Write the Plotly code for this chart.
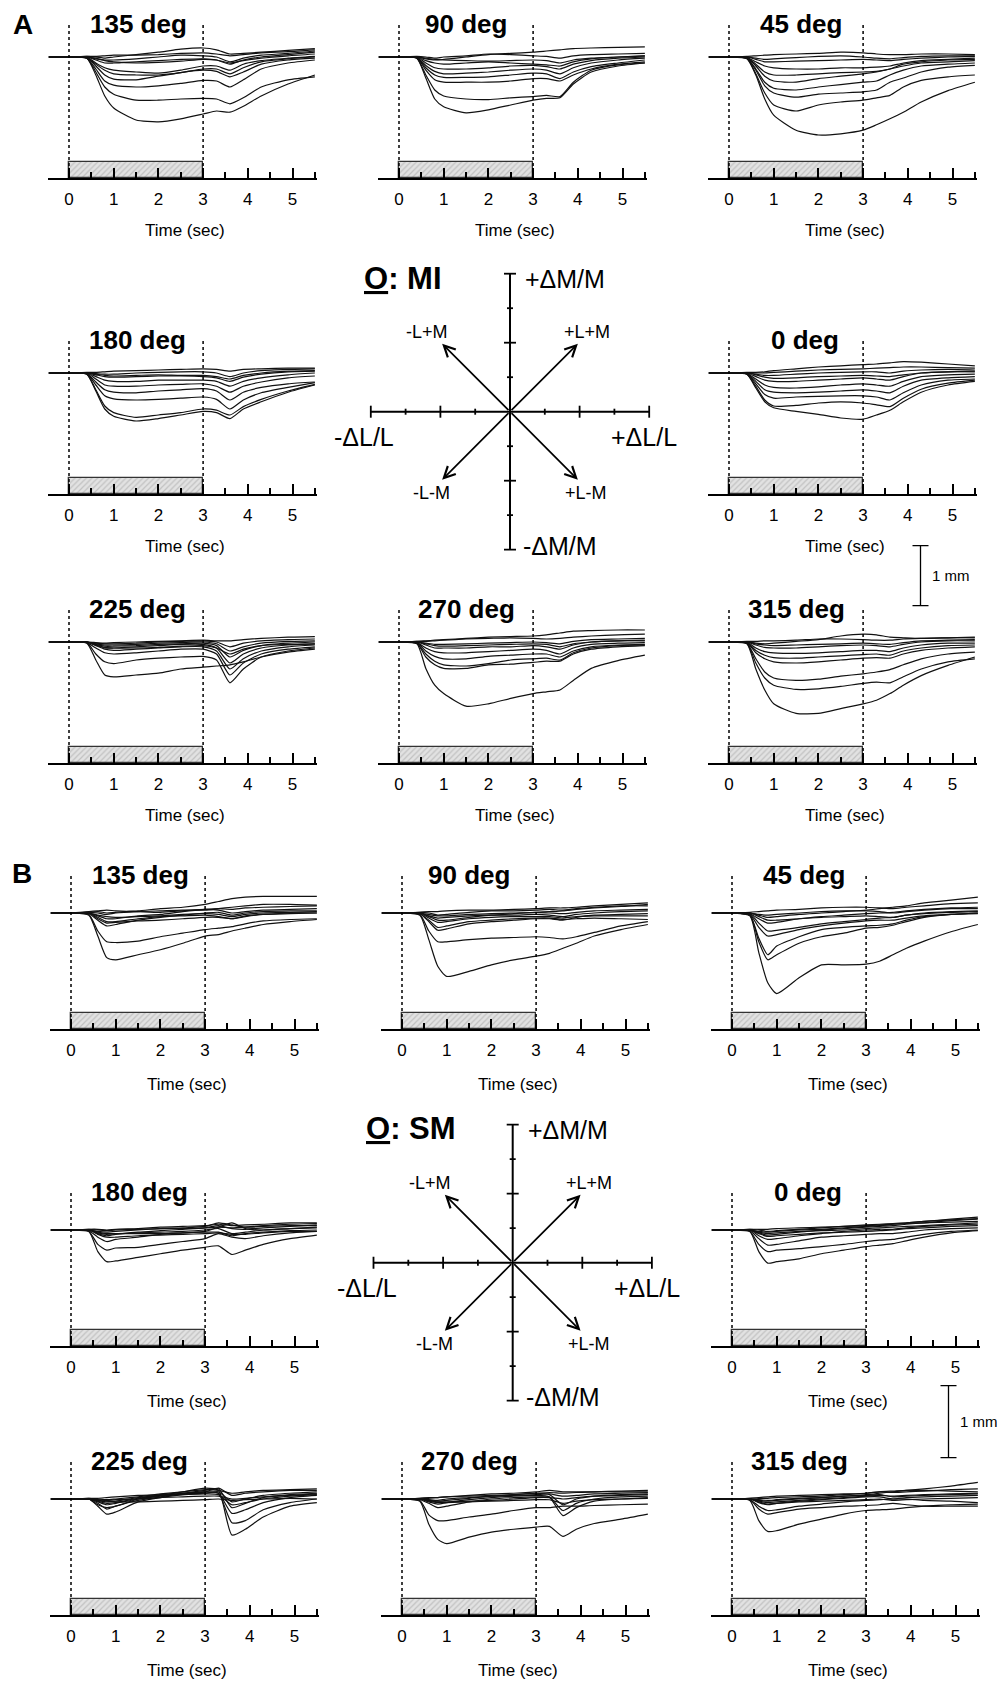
import plotly.graph_objects as go

W, H = 1001, 1684
FONT = "Arial, 'Liberation Sans', Helvetica, sans-serif"

# ---------------- data ----------------
T = [-0.45, 0, 0.4, 0.6, 0.8, 1.0, 1.5, 2.0, 2.5, 3.0, 3.3, 3.6, 3.9, 4.3, 4.9, 5.5]
TIME_TICKS = [0, 1, 2, 3, 4, 5]
TIME_MINOR = [0.5, 1.5, 2.5, 3.5, 4.5, 5.5]
X_RANGE = [-0.47, 5.55]
STIM = [0, 3]
SCALE_MM = 1

# Panel A (observer MI), pupil change in mm
A135 = [
    [0, 0, -0.02, -0.3, -0.65, -0.85, -1.05, -1.08, -1.03, -0.95, -0.9, -0.92, -0.82, -0.65, -0.45, -0.3],
    [0, 0, -0.02, -0.25, -0.5, -0.62, -0.72, -0.72, -0.7, -0.69, -0.7, -0.78, -0.68, -0.5, -0.38, -0.33],
    [0, 0, -0.02, -0.2, -0.4, -0.47, -0.5, -0.48, -0.44, -0.39, -0.4, -0.5, -0.38, -0.2, -0.1, -0.05],
    [0, 0, -0.01, -0.15, -0.3, -0.37, -0.38, -0.32, -0.26, -0.22, -0.24, -0.33, -0.25, -0.12, -0.05, -0.02],
    [0, 0, -0.01, -0.12, -0.22, -0.28, -0.3, -0.3, -0.26, -0.2, -0.2, -0.28, -0.18, -0.08, -0.03, 0],
    [0, 0, 0, -0.1, -0.18, -0.22, -0.25, -0.27, -0.22, -0.15, -0.15, -0.22, -0.12, -0.06, -0.02, 0.01],
    [0, 0, 0, -0.05, -0.1, -0.1, -0.08, -0.06, -0.04, -0.03, -0.05, -0.12, -0.05, 0, 0.04, 0.08],
    [0, 0, 0, -0.03, -0.05, -0.05, -0.03, 0, 0.03, 0.02, 0, -0.08, -0.02, 0.03, 0.06, 0.1],
    [0, 0, 0.01, 0, -0.02, 0, 0.04, 0.08, 0.13, 0.15, 0.12, 0.05, 0.06, 0.08, 0.11, 0.14],
    [0, 0, 0, -0.02, -0.06, -0.08, -0.1, -0.09, -0.07, -0.04, -0.05, -0.1, -0.06, -0.02, 0.02, 0.05],
    [0, 0, 0.01, 0.01, 0.02, 0.03, 0.03, 0.04, 0.06, 0.07, 0.05, 0.02, 0.04, 0.07, 0.09, 0.12],
]
A90 = [
    [0, 0, -0.02, -0.35, -0.7, -0.83, -0.93, -0.88, -0.8, -0.72, -0.69, -0.68, -0.45, -0.25, -0.15, -0.1],
    [0, 0, -0.02, -0.3, -0.55, -0.65, -0.7, -0.71, -0.68, -0.66, -0.64, -0.66, -0.42, -0.22, -0.13, -0.1],
    [0, 0, -0.01, -0.22, -0.38, -0.42, -0.42, -0.42, -0.4, -0.36, -0.36, -0.4, -0.3, -0.2, -0.12, -0.08],
    [0, 0, -0.01, -0.18, -0.3, -0.34, -0.34, -0.33, -0.3, -0.27, -0.28, -0.36, -0.25, -0.16, -0.1, -0.05],
    [0, 0, -0.01, -0.14, -0.24, -0.28, -0.27, -0.25, -0.22, -0.2, -0.22, -0.28, -0.18, -0.1, -0.05, -0.02],
    [0, 0, 0, -0.1, -0.18, -0.2, -0.2, -0.18, -0.15, -0.14, -0.16, -0.2, -0.12, -0.06, -0.02, 0],
    [0, 0, 0, -0.06, -0.1, -0.12, -0.1, -0.08, -0.1, -0.12, -0.13, -0.15, -0.08, -0.03, 0, 0.02],
    [0, 0, 0, -0.03, -0.05, -0.04, 0, 0.04, 0.06, 0.08, 0.1, 0.12, 0.14, 0.15, 0.16, 0.17],
    [0, 0, 0.01, 0, -0.02, 0, 0.02, 0.05, 0.04, 0.02, 0.01, -0.02, 0.02, 0.04, 0.05, 0.06],
    [0, 0, 0, -0.02, -0.04, -0.05, -0.06, -0.07, -0.06, -0.05, -0.06, -0.1, -0.05, -0.02, 0, 0.02],
]
A45 = [
    [0, 0, -0.03, -0.3, -0.7, -0.97, -1.22, -1.3, -1.28, -1.22, -1.13, -1.03, -0.92, -0.75, -0.56, -0.42],
    [0, 0, -0.02, -0.28, -0.6, -0.8, -0.9, -0.8, -0.75, -0.72, -0.68, -0.64, -0.5, -0.39, -0.33, -0.3],
    [0, 0, -0.02, -0.22, -0.48, -0.6, -0.67, -0.62, -0.6, -0.58, -0.55, -0.42, -0.35, -0.25, -0.17, -0.14],
    [0, 0, -0.02, -0.2, -0.42, -0.52, -0.55, -0.5, -0.46, -0.42, -0.4, -0.3, -0.22, -0.15, -0.12, -0.1],
    [0, 0, -0.01, -0.15, -0.32, -0.4, -0.42, -0.36, -0.32, -0.28, -0.25, -0.2, -0.15, -0.1, -0.08, -0.06],
    [0, 0, -0.01, -0.12, -0.25, -0.3, -0.3, -0.28, -0.26, -0.25, -0.24, -0.2, -0.12, -0.08, -0.05, -0.04],
    [0, 0, -0.01, -0.08, -0.15, -0.18, -0.2, -0.2, -0.18, -0.18, -0.17, -0.15, -0.1, -0.06, -0.04, -0.02],
    [0, 0, 0, -0.04, -0.08, -0.08, -0.07, -0.06, -0.05, -0.04, -0.05, -0.06, -0.04, -0.02, 0, 0.01],
    [0, 0, 0.01, 0.02, 0.03, 0.04, 0.05, 0.06, 0.08, 0.07, 0.05, 0.04, 0.04, 0.05, 0.05, 0.04],
    [0, 0, 0, -0.02, -0.04, -0.03, -0.01, 0.01, 0.02, 0, -0.02, -0.03, -0.01, 0.01, 0.02, 0.02],
]
A180 = [
    [0, 0, -0.02, -0.3, -0.6, -0.72, -0.8, -0.76, -0.7, -0.64, -0.66, -0.76, -0.6, -0.48, -0.32, -0.2],
    [0, 0, -0.02, -0.28, -0.55, -0.66, -0.74, -0.7, -0.66, -0.6, -0.62, -0.7, -0.56, -0.44, -0.3, -0.19],
    [0, 0, -0.01, -0.2, -0.38, -0.43, -0.45, -0.44, -0.42, -0.4, -0.44, -0.6, -0.45, -0.33, -0.24, -0.16],
    [0, 0, -0.01, -0.15, -0.28, -0.32, -0.33, -0.3, -0.28, -0.26, -0.3, -0.45, -0.32, -0.24, -0.18, -0.15],
    [0, 0, 0, -0.1, -0.2, -0.22, -0.22, -0.2, -0.19, -0.18, -0.22, -0.32, -0.22, -0.15, -0.08, -0.05],
    [0, 0, 0, -0.06, -0.12, -0.14, -0.14, -0.12, -0.12, -0.12, -0.14, -0.22, -0.14, -0.08, -0.03, 0],
    [0, 0, 0, -0.03, -0.06, -0.07, -0.06, -0.05, -0.05, -0.06, -0.08, -0.14, -0.07, -0.02, 0.02, 0.03],
    [0, 0, 0, -0.01, -0.02, -0.02, 0, 0.01, 0.02, 0.02, 0, -0.06, 0, 0.04, 0.06, 0.07],
    [0, 0, 0.01, 0.01, 0.02, 0.03, 0.04, 0.05, 0.06, 0.07, 0.06, 0.03, 0.06, 0.07, 0.08, 0.08],
    [0, 0, 0, -0.02, -0.04, -0.05, -0.04, -0.03, -0.04, -0.04, -0.06, -0.1, -0.04, 0, 0.03, 0.04],
]
A0 = [
    [0, 0, -0.02, -0.25, -0.48, -0.58, -0.64, -0.69, -0.75, -0.77, -0.7, -0.62, -0.48, -0.32, -0.2, -0.14],
    [0, 0, -0.02, -0.22, -0.45, -0.55, -0.54, -0.5, -0.48, -0.5, -0.53, -0.56, -0.42, -0.27, -0.17, -0.12],
    [0, 0, -0.01, -0.18, -0.36, -0.42, -0.4, -0.39, -0.38, -0.38, -0.4, -0.45, -0.33, -0.2, -0.12, -0.1],
    [0, 0, -0.01, -0.14, -0.28, -0.32, -0.33, -0.32, -0.3, -0.28, -0.3, -0.33, -0.22, -0.12, -0.08, -0.06],
    [0, 0, -0.01, -0.1, -0.2, -0.24, -0.25, -0.23, -0.2, -0.18, -0.2, -0.22, -0.14, -0.06, -0.03, -0.02],
    [0, 0, 0, -0.06, -0.12, -0.14, -0.14, -0.12, -0.1, -0.08, -0.1, -0.12, -0.06, 0, 0.02, 0.02],
    [0, 0, 0, -0.02, -0.04, -0.04, -0.02, 0, 0.01, 0.02, 0.02, 0, 0.03, 0.05, 0.06, 0.05],
    [0, 0, 0.01, 0.01, 0.02, 0.04, 0.07, 0.1, 0.12, 0.14, 0.15, 0.17, 0.19, 0.18, 0.15, 0.12],
    [0, 0, 0, 0, 0, 0.01, 0.03, 0.05, 0.06, 0.07, 0.08, 0.09, 0.1, 0.1, 0.09, 0.08],
    [0, 0, 0, -0.03, -0.07, -0.09, -0.08, -0.06, -0.05, -0.04, -0.05, -0.06, -0.03, 0, 0.02, 0.03],
]
A225 = [
    [0, 0, -0.02, -0.3, -0.55, -0.58, -0.55, -0.52, -0.45, -0.42, -0.4, -0.38, -0.33, -0.25, -0.17, -0.12],
    [0, 0, -0.01, -0.2, -0.33, -0.36, -0.3, -0.27, -0.25, -0.24, -0.3, -0.68, -0.45, -0.25, -0.15, -0.1],
    [0, 0, -0.01, -0.1, -0.18, -0.2, -0.18, -0.15, -0.12, -0.12, -0.2, -0.55, -0.35, -0.2, -0.12, -0.08],
    [0, 0, 0, -0.06, -0.12, -0.14, -0.12, -0.1, -0.08, -0.08, -0.15, -0.45, -0.28, -0.15, -0.08, -0.05],
    [0, 0, 0, -0.05, -0.1, -0.1, -0.08, -0.06, -0.04, -0.04, -0.1, -0.35, -0.2, -0.1, -0.05, -0.03],
    [0, 0, 0, -0.04, -0.07, -0.07, -0.06, -0.04, -0.03, -0.02, -0.06, -0.25, -0.14, -0.06, -0.02, 0],
    [0, 0, 0, -0.03, -0.05, -0.05, -0.04, -0.02, -0.01, 0, -0.03, -0.15, -0.08, -0.02, 0.01, 0.02],
    [0, 0, 0, -0.02, -0.03, -0.03, -0.02, 0, 0.01, 0.02, 0, -0.08, -0.02, 0.02, 0.04, 0.05],
    [0, 0, 0, -0.01, -0.02, -0.01, 0, 0.01, 0.02, 0.03, 0.02, 0.02, 0.04, 0.06, 0.08, 0.09],
    [0, 0, 0, -0.05, -0.09, -0.1, -0.1, -0.09, -0.07, -0.06, -0.1, -0.2, -0.12, -0.06, -0.04, -0.03],
]
A270 = [
    [0, 0, -0.03, -0.44, -0.72, -0.86, -1.07, -1.03, -0.94, -0.86, -0.83, -0.8, -0.64, -0.44, -0.31, -0.22],
    [0, 0, -0.02, -0.25, -0.38, -0.44, -0.44, -0.38, -0.37, -0.34, -0.32, -0.32, -0.2, -0.12, -0.08, -0.06],
    [0, 0, -0.02, -0.2, -0.32, -0.38, -0.4, -0.36, -0.3, -0.28, -0.27, -0.3, -0.18, -0.1, -0.06, -0.05],
    [0, 0, -0.01, -0.15, -0.24, -0.28, -0.28, -0.24, -0.22, -0.2, -0.2, -0.25, -0.15, -0.08, -0.05, -0.04],
    [0, 0, -0.01, -0.1, -0.16, -0.18, -0.18, -0.16, -0.14, -0.12, -0.14, -0.2, -0.1, -0.04, -0.02, -0.01],
    [0, 0, 0, -0.05, -0.1, -0.1, -0.1, -0.08, -0.08, -0.06, -0.08, -0.12, -0.05, 0, 0.02, 0.02],
    [0, 0, 0, -0.02, -0.04, -0.04, -0.03, -0.02, -0.01, 0, -0.01, -0.03, 0.01, 0.04, 0.05, 0.06],
    [0, 0, 0.01, 0.02, 0.03, 0.04, 0.06, 0.08, 0.09, 0.1, 0.12, 0.15, 0.18, 0.19, 0.2, 0.2],
    [0, 0, 0.01, 0.01, 0.02, 0.03, 0.05, 0.06, 0.07, 0.06, 0.05, 0.06, 0.08, 0.1, 0.12, 0.13],
    [0, 0, 0, -0.03, -0.06, -0.07, -0.06, -0.05, -0.04, -0.03, -0.04, -0.08, -0.03, 0, 0.02, 0.03],
]
A315 = [
    [0, 0, -0.03, -0.45, -0.8, -1.03, -1.19, -1.19, -1.11, -1.03, -0.97, -0.86, -0.72, -0.56, -0.39, -0.25],
    [0, 0, -0.02, -0.35, -0.6, -0.72, -0.79, -0.78, -0.74, -0.69, -0.67, -0.68, -0.58, -0.45, -0.33, -0.28],
    [0, 0, -0.02, -0.28, -0.5, -0.6, -0.64, -0.62, -0.57, -0.53, -0.5, -0.46, -0.38, -0.28, -0.2, -0.17],
    [0, 0, -0.01, -0.18, -0.28, -0.33, -0.35, -0.33, -0.3, -0.27, -0.26, -0.27, -0.2, -0.14, -0.1, -0.08],
    [0, 0, -0.01, -0.14, -0.22, -0.26, -0.27, -0.25, -0.23, -0.21, -0.2, -0.22, -0.15, -0.1, -0.06, -0.05],
    [0, 0, 0, -0.1, -0.16, -0.18, -0.19, -0.18, -0.16, -0.14, -0.14, -0.16, -0.1, -0.05, -0.02, -0.02],
    [0, 0, 0, -0.05, -0.09, -0.1, -0.1, -0.08, -0.06, -0.05, -0.06, -0.08, -0.04, 0, 0.02, 0.02],
    [0, 0, 0, -0.02, -0.03, -0.02, 0.01, 0.04, 0.1, 0.13, 0.12, 0.08, 0.07, 0.06, 0.07, 0.08],
    [0, 0, 0.01, 0.01, 0.02, 0.02, 0.03, 0.05, 0.05, 0.04, 0.03, 0.03, 0.05, 0.06, 0.07, 0.07],
    [0, 0, 0, -0.03, -0.05, -0.06, -0.05, -0.04, -0.03, -0.02, -0.03, -0.04, -0.01, 0.02, 0.03, 0.04],
]

# Panel B (observer SM)
B135 = [
    [0, 0, -0.03, -0.32, -0.62, -0.65, -0.58, -0.51, -0.42, -0.32, -0.3, -0.25, -0.21, -0.16, -0.12, -0.09],
    [0, 0, -0.02, -0.25, -0.4, -0.41, -0.39, -0.33, -0.28, -0.23, -0.21, -0.19, -0.15, -0.11, -0.09, -0.08],
    [0, 0, -0.01, -0.1, -0.18, -0.16, -0.1, -0.06, -0.03, 0, 0.01, -0.03, 0, 0.02, 0.03, 0.03],
    [0, 0, 0, -0.06, -0.12, -0.12, -0.08, -0.05, -0.04, -0.03, -0.05, -0.08, -0.04, -0.02, 0, 0],
    [0, 0, 0.01, 0.02, 0, 0.01, 0.03, 0.06, 0.08, 0.12, 0.16, 0.2, 0.22, 0.23, 0.23, 0.23],
    [0, 0, 0, -0.04, -0.08, -0.08, -0.04, -0.02, 0.02, 0.05, 0.06, 0.05, 0.07, 0.08, 0.09, 0.1],
    [0, 0, 0.02, 0.03, 0.04, 0.03, 0.02, 0.01, 0.03, 0.05, 0.04, 0, 0.02, 0.04, 0.05, 0.06],
    [0, 0, 0, -0.03, -0.05, -0.06, -0.05, -0.04, -0.02, -0.01, -0.02, -0.05, -0.02, 0, 0.01, 0.02],
    [0, 0, 0, -0.08, -0.14, -0.13, -0.11, -0.1, -0.08, -0.06, -0.06, -0.08, -0.05, -0.02, -0.01, 0],
    [0, 0, 0.01, 0, -0.02, 0, 0.02, 0.03, 0.04, 0.04, 0.06, 0.08, 0.1, 0.12, 0.12, 0.11],
]
B90 = [
    [0, 0, -0.03, -0.37, -0.74, -0.88, -0.81, -0.72, -0.65, -0.6, -0.56, -0.49, -0.42, -0.32, -0.23, -0.16],
    [0, 0, -0.02, -0.25, -0.4, -0.4, -0.37, -0.35, -0.34, -0.33, -0.34, -0.36, -0.33, -0.27, -0.18, -0.12],
    [0, 0, -0.01, -0.12, -0.24, -0.22, -0.15, -0.12, -0.1, -0.08, -0.08, -0.1, -0.06, -0.03, -0.02, -0.01],
    [0, 0, -0.01, -0.1, -0.2, -0.18, -0.12, -0.1, -0.08, -0.07, -0.07, -0.09, -0.08, -0.07, -0.08, -0.09],
    [0, 0, 0, -0.05, -0.1, -0.1, -0.06, -0.03, -0.01, 0.01, 0.02, 0.03, 0.05, 0.07, 0.09, 0.12],
    [0, 0, 0.01, 0, -0.03, -0.02, 0.01, 0.03, 0.03, 0.04, 0.05, 0.04, 0.06, 0.08, 0.1, 0.1],
    [0, 0, 0, -0.04, -0.07, -0.06, -0.04, -0.03, -0.03, -0.02, -0.03, -0.05, -0.02, 0, 0.02, 0.03],
    [0, 0, 0.01, 0.02, 0.02, 0.03, 0.04, 0.04, 0.05, 0.06, 0.07, 0.07, 0.08, 0.1, 0.12, 0.14],
    [0, 0, 0, -0.02, -0.04, -0.04, -0.02, -0.01, 0, 0.01, 0, -0.01, 0.01, 0.03, 0.04, 0.05],
    [0, 0, 0, -0.07, -0.13, -0.12, -0.08, -0.06, -0.05, -0.05, -0.05, -0.07, -0.05, -0.04, -0.04, -0.04],
]
B45 = [
    [0, 0, -0.04, -0.55, -0.97, -1.12, -0.9, -0.72, -0.72, -0.71, -0.67, -0.58, -0.49, -0.39, -0.26, -0.16],
    [0, 0, -0.03, -0.4, -0.65, -0.58, -0.42, -0.33, -0.28, -0.21, -0.2, -0.17, -0.12, -0.06, -0.02, 0],
    [0, 0, -0.03, -0.35, -0.58, -0.46, -0.33, -0.23, -0.2, -0.18, -0.17, -0.15, -0.1, -0.05, -0.02, 0],
    [0, 0, -0.02, -0.2, -0.32, -0.3, -0.23, -0.18, -0.14, -0.11, -0.1, -0.1, -0.07, -0.04, -0.02, -0.01],
    [0, 0, -0.01, -0.14, -0.25, -0.24, -0.2, -0.15, -0.12, -0.09, -0.07, -0.06, -0.03, 0, 0.02, 0.03],
    [0, 0, -0.01, -0.08, -0.14, -0.13, -0.08, -0.05, -0.03, -0.01, 0, 0.01, 0.03, 0.05, 0.07, 0.08],
    [0, 0, 0, -0.03, -0.06, -0.05, -0.02, 0, 0.02, 0.04, 0.06, 0.08, 0.1, 0.14, 0.18, 0.22],
    [0, 0, 0.01, 0.02, 0.03, 0.04, 0.05, 0.07, 0.08, 0.08, 0.07, 0.06, 0.08, 0.1, 0.13, 0.14],
    [0, 0, 0, -0.02, -0.03, -0.02, 0, 0.02, 0.03, 0.03, 0.02, 0, 0.02, 0.04, 0.06, 0.06],
    [0, 0, 0, -0.05, -0.1, -0.1, -0.08, -0.06, -0.05, -0.04, -0.05, -0.06, -0.03, -0.01, 0.01, 0.02],
]
B180 = [
    [0, 0, -0.02, -0.3, -0.44, -0.43, -0.38, -0.33, -0.28, -0.24, -0.22, -0.34, -0.28, -0.2, -0.12, -0.07],
    [0, 0, -0.02, -0.2, -0.28, -0.25, -0.24, -0.2, -0.16, -0.12, -0.05, -0.1, -0.12, -0.08, -0.04, -0.02],
    [0, 0, -0.01, -0.1, -0.16, -0.13, -0.1, -0.06, -0.04, -0.02, 0.04, 0.1, 0.02, 0, 0.02, 0.03],
    [0, 0, 0, -0.05, -0.08, -0.06, -0.03, -0.01, 0.01, 0.03, 0.06, 0.02, 0.01, 0.03, 0.05, 0.07],
    [0, 0, 0, -0.04, -0.06, -0.05, -0.04, -0.03, -0.02, 0, 0.02, -0.05, -0.03, 0, 0.02, 0.04],
    [0, 0, 0.01, 0.01, 0, 0.01, 0.02, 0.04, 0.05, 0.06, 0.08, 0.06, 0.07, 0.08, 0.1, 0.1],
    [0, 0, 0, -0.03, -0.05, -0.05, -0.05, -0.05, -0.04, -0.03, -0.03, -0.08, -0.05, -0.03, -0.01, 0],
    [0, 0, 0, -0.02, -0.03, -0.02, 0, 0.02, 0.03, 0.05, 0.1, 0.07, 0.04, 0.05, 0.06, 0.06],
    [0, 0, 0, -0.06, -0.1, -0.1, -0.08, -0.07, -0.06, -0.05, -0.04, -0.06, -0.06, -0.04, -0.02, -0.02],
    [0, 0, 0.01, 0, -0.01, 0, 0.01, 0.02, 0.02, 0.03, 0.04, 0.03, 0.04, 0.06, 0.08, 0.09],
]
B0 = [
    [0, 0, -0.02, -0.3, -0.46, -0.44, -0.4, -0.33, -0.28, -0.23, -0.21, -0.19, -0.15, -0.1, -0.04, -0.01],
    [0, 0, -0.02, -0.2, -0.3, -0.28, -0.26, -0.23, -0.2, -0.16, -0.14, -0.13, -0.1, -0.06, -0.02, 0],
    [0, 0, -0.01, -0.12, -0.21, -0.2, -0.15, -0.1, -0.08, -0.06, -0.05, -0.05, -0.03, 0, 0.02, 0.03],
    [0, 0, 0, -0.08, -0.13, -0.12, -0.08, -0.05, -0.02, 0, 0.01, 0.01, 0.03, 0.05, 0.07, 0.08],
    [0, 0, 0, -0.04, -0.07, -0.06, -0.03, 0, 0.02, 0.04, 0.05, 0.06, 0.08, 0.1, 0.13, 0.15],
    [0, 0, 0.01, 0, -0.02, -0.01, 0.01, 0.03, 0.05, 0.07, 0.08, 0.09, 0.1, 0.12, 0.15, 0.18],
    [0, 0, 0, -0.03, -0.05, -0.04, -0.02, -0.01, 0, 0.02, 0.03, 0.04, 0.05, 0.06, 0.08, 0.1],
    [0, 0, 0, -0.02, -0.03, -0.02, 0, 0.01, 0.03, 0.05, 0.06, 0.08, 0.1, 0.12, 0.14, 0.16],
    [0, 0, 0, -0.05, -0.09, -0.08, -0.06, -0.04, -0.03, -0.02, -0.01, 0, 0.02, 0.03, 0.05, 0.06],
    [0, 0, 0.01, 0.01, 0.01, 0.02, 0.03, 0.04, 0.05, 0.06, 0.07, 0.08, 0.09, 0.1, 0.11, 0.12],
]
B225 = [
    [0, 0, 0, -0.08, -0.12, -0.1, 0, 0.05, 0.1, 0.15, 0.12, -0.5, -0.42, -0.25, -0.1, -0.05],
    [0, 0, 0, -0.1, -0.21, -0.18, -0.04, 0.02, 0.06, 0.1, 0.08, -0.33, -0.3, -0.15, -0.05, 0],
    [0, 0, 0, -0.06, -0.14, -0.1, -0.02, 0.03, 0.07, 0.1, 0.08, -0.2, -0.15, -0.05, 0.02, 0.05],
    [0, 0, 0, -0.04, -0.08, -0.06, 0, 0.04, 0.08, 0.12, 0.14, -0.12, -0.06, 0.02, 0.06, 0.08],
    [0, 0, 0, -0.02, -0.04, -0.03, 0.02, 0.05, 0.07, 0.08, 0.1, -0.04, 0, 0.05, 0.08, 0.1],
    [0, 0, 0.01, 0, -0.01, 0, 0.03, 0.07, 0.1, 0.13, 0.12, 0.08, 0.1, 0.12, 0.13, 0.14],
    [0, 0, 0, -0.02, -0.03, -0.04, -0.04, -0.03, -0.02, -0.01, 0, -0.02, -0.01, 0, 0.01, 0],
    [0, 0, 0, -0.03, -0.06, -0.05, 0.01, 0.05, 0.06, 0.07, 0.06, -0.08, -0.05, 0, 0.04, 0.06],
    [0, 0, 0.01, 0.01, 0.02, 0.03, 0.05, 0.06, 0.08, 0.1, 0.15, 0.05, 0.08, 0.1, 0.12, 0.12],
    [0, 0, 0, -0.01, -0.02, -0.01, 0, 0.02, 0.03, 0.04, 0.04, 0, 0.01, 0.03, 0.05, 0.07],
]
B270 = [
    [0, 0, -0.03, -0.35, -0.56, -0.62, -0.53, -0.46, -0.42, -0.39, -0.38, -0.52, -0.42, -0.34, -0.28, -0.21],
    [0, 0, -0.02, -0.22, -0.3, -0.3, -0.25, -0.21, -0.16, -0.12, -0.12, -0.1, -0.1, -0.09, -0.08, -0.07],
    [0, 0, -0.01, -0.06, -0.12, -0.1, -0.04, 0, 0.02, 0.03, 0.02, -0.23, -0.12, -0.03, 0, 0.02],
    [0, 0, 0, -0.04, -0.07, -0.05, -0.01, 0.02, 0.04, 0.05, 0.03, -0.16, -0.06, 0, 0.03, 0.04],
    [0, 0, 0, -0.02, -0.03, -0.02, 0.01, 0.04, 0.06, 0.08, 0.06, -0.08, 0, 0.04, 0.06, 0.07],
    [0, 0, 0.01, 0.01, 0.02, 0.03, 0.05, 0.07, 0.08, 0.1, 0.12, 0.1, 0.1, 0.1, 0.11, 0.12],
    [0, 0, 0, -0.02, -0.04, -0.04, -0.03, -0.02, 0, 0.02, 0.02, 0, 0.02, 0.04, 0.05, 0.06],
    [0, 0, 0, -0.01, -0.02, 0, 0.02, 0.04, 0.05, 0.06, 0.07, 0.04, 0.05, 0.07, 0.08, 0.09],
    [0, 0, 0, -0.03, -0.05, -0.05, -0.04, -0.03, -0.02, -0.01, -0.01, -0.06, -0.03, -0.01, 0, 0.01],
    [0, 0, 0.01, 0.02, 0.02, 0.03, 0.04, 0.05, 0.06, 0.08, 0.09, 0.08, 0.09, 0.1, 0.1, 0.1],
]
B315 = [
    [0, 0, -0.02, -0.3, -0.45, -0.44, -0.35, -0.28, -0.21, -0.16, -0.15, -0.14, -0.12, -0.1, -0.08, -0.07],
    [0, 0, -0.01, -0.14, -0.21, -0.19, -0.14, -0.12, -0.1, -0.09, -0.08, -0.06, -0.08, -0.1, -0.1, -0.1],
    [0, 0, -0.01, -0.1, -0.16, -0.15, -0.1, -0.07, -0.04, -0.02, -0.01, 0, 0, -0.02, -0.03, -0.05],
    [0, 0, 0, -0.05, -0.08, -0.06, -0.03, -0.01, 0.01, 0.03, 0.03, 0, 0.02, 0.03, 0.04, 0.05],
    [0, 0, 0, -0.02, -0.03, -0.02, 0, 0.02, 0.04, 0.06, 0.08, 0.1, 0.12, 0.14, 0.18, 0.23],
    [0, 0, 0.01, 0.01, 0.01, 0.02, 0.03, 0.04, 0.06, 0.08, 0.1, 0.09, 0.1, 0.11, 0.13, 0.14],
    [0, 0, 0, -0.03, -0.05, -0.04, -0.02, 0, 0.02, 0.04, 0.05, 0.04, 0.05, 0.06, 0.07, 0.08],
    [0, 0, 0, -0.01, -0.02, -0.01, 0.01, 0.02, 0.04, 0.05, 0.06, 0.03, 0.04, 0.05, 0.06, 0.07],
    [0, 0, 0, -0.04, -0.07, -0.06, -0.04, -0.03, -0.02, -0.01, 0, -0.02, -0.01, 0, 0.01, 0.02],
    [0, 0, 0.01, 0.02, 0.03, 0.04, 0.05, 0.06, 0.07, 0.08, 0.1, 0.11, 0.12, 0.12, 0.11, 0.1],
]

A_TITLES = ["135 deg", "90 deg", "45 deg", "180 deg", "0 deg", "225 deg", "270 deg", "315 deg"]
B_TITLES = ["135 deg", "90 deg", "45 deg", "180 deg", "0 deg", "225 deg", "270 deg", "315 deg"]
A_DATA = [A135, A90, A45, A180, A0, A225, A270, A315]
B_DATA = [B135, B90, B45, B180, B0, B225, B270, B315]
GRID_POS = [(0, 0), (0, 1), (0, 2), (1, 0), (1, 2), (2, 0), (2, 1), (2, 2)]
TITLE_T = [1.55, 1.5, 1.6, 1.53, 1.7, 1.53, 1.5, 1.5]

DIAG_AXIS_LEN = 4
DIAG_TICKS = [-4, -3, -2, -1, 1, 2, 3, 4]
DIAG_TICK_HALF = [6, 3, 6, 3, 3, 6, 3, 6]
ARROW_TIPS = [(1.95, 1.97), (-1.95, 1.97), (-1.95, -1.97), (1.95, -1.97)]
ARROW_LABELS = [("+L+M", 2.2, 2.32), ("-L+M", -2.38, 2.32), ("-L-M", -2.26, -2.36), ("+L-M", 2.18, -2.36)]
AXIS_LABELS = [("+ΔM/M", 0.38, 3.85, "left"), ("-ΔM/M", 0.32, -3.9, "left"),
               ("-ΔL/L", -4.2, -0.72, "center"), ("+ΔL/L", 3.85, -0.72, "center")]

# ---------------- layout helpers ----------------
fig = go.Figure()
lay = dict(width=W, height=H, autosize=False, margin=dict(l=0, r=0, t=0, b=0),
           paper_bgcolor="white", plot_bgcolor="rgba(0,0,0,0)", showlegend=False,
           font=dict(family=FONT, color="black"), bargap=0)
ann, shp = [], []
cnt = [0]
PX_PER_S = 44.7


def new_axes():
    cnt[0] += 1
    s = "" if cnt[0] == 1 else str(cnt[0])
    return "xaxis" + s, "yaxis" + s, "x" + s, "y" + s


def panel(traces, title, title_t, c0, ax_y, pxmm, base_above, time_shift):
    xa, ya, xr, yr = new_axes()
    x0 = c0 + X_RANGE[0] * PX_PER_S
    x1 = c0 + X_RANGE[1] * PX_PER_S
    top = ax_y - 153
    ymin = -base_above / pxmm
    ymax = (153 - base_above) / pxmm
    lay[xa] = dict(domain=[x0 / W, x1 / W], range=X_RANGE, anchor=yr, showline=True,
                   linecolor="black", linewidth=1.6, ticks="inside", ticklen=10, tickwidth=1.6,
                   tickcolor="black", tickmode="array", tickvals=TIME_TICKS,
                   ticktext=[str(v) for v in TIME_TICKS], tickfont=dict(size=17, color="black"),
                   ticklabelstandoff=5,
                   minor=dict(tickmode="array", tickvals=TIME_MINOR, ticks="inside", ticklen=6,
                              tickwidth=1.6, tickcolor="black", showgrid=False),
                   showgrid=False, zeroline=False, fixedrange=True)
    lay[ya] = dict(domain=[1 - ax_y / H, 1 - top / H], range=[ymin, ymax], anchor=xr,
                   visible=False, fixedrange=True)
    fig.add_trace(go.Bar(x=[(STIM[0] + STIM[1]) / 2], y=[16 / pxmm], base=[ymin],
                         width=[STIM[1] - STIM[0]], xaxis=xr, yaxis=yr, hoverinfo="skip",
                         marker=dict(color="#e2e2e2",
                                     pattern=dict(shape="/", fgcolor="#a0a0a0", bgcolor="#e2e2e2",
                                                  size=4, solidity=0.3),
                                     line=dict(color="#333333", width=1.3))))
    for s in STIM:
        shp.append(dict(type="line", xref=xr, yref=yr + " domain", x0=s, x1=s, y0=0, y1=1,
                        line=dict(color="black", width=1.5, dash="dot"), layer="above"))
    for tr in traces:
        fig.add_trace(go.Scatter(x=T, y=tr, mode="lines", xaxis=xr, yaxis=yr, hoverinfo="skip",
                                 line=dict(color="#111111", width=1.2, shape="spline",
                                           smoothing=0.6)))
    ann.append(dict(text="<b>" + title + "</b>", xref=xr, yref=yr + " domain", x=title_t, y=1,
                    xanchor="center", yanchor="middle", yshift=1, showarrow=False,
                    font=dict(size=26)))
    ann.append(dict(text="Time (sec)", xref=xr, yref=yr + " domain", x=2.6, y=0,
                    xanchor="center", yanchor="middle", yshift=-time_shift, showarrow=False,
                    font=dict(size=17)))


def diagram(cx, cy, title, title_x, title_y):
    xa, ya, xr, yr = new_axes()
    ux, uy = 34.8, 34.5
    lay[xa] = dict(domain=[(cx - 5 * ux) / W, (cx + 5 * ux) / W], range=[-5, 5], visible=False,
                   anchor=yr, fixedrange=True)
    lay[ya] = dict(domain=[1 - (cy + 5 * uy) / H, 1 - (cy - 5 * uy) / H], range=[-5, 5],
                   visible=False, anchor=xr, fixedrange=True)
    L = DIAG_AXIS_LEN
    fig.add_trace(go.Scatter(x=[-L, L, None, 0, 0], y=[0, 0, None, -L, L], mode="lines",
                             line=dict(color="black", width=2), xaxis=xr, yaxis=yr,
                             hoverinfo="skip"))
    tx, ty = [], []
    for p, h in zip(DIAG_TICKS, DIAG_TICK_HALF):
        tx += [p, p, None, -h / ux, h / ux, None]
        ty += [-h / uy, h / uy, None, p, p, None]
    fig.add_trace(go.Scatter(x=tx, y=ty, mode="lines", line=dict(color="black", width=1.8),
                             xaxis=xr, yaxis=yr, hoverinfo="skip"))
    for hx, hy in ARROW_TIPS:
        ann.append(dict(x=hx, y=hy, ax=0, ay=0, xref=xr, yref=yr, axref=xr, ayref=yr, text="",
                        showarrow=True, arrowhead=5, arrowsize=1.3, arrowwidth=1.7,
                        arrowcolor="black"))
    for txt, lx, ly in ARROW_LABELS:
        ann.append(dict(x=lx, y=ly, xref=xr, yref=yr, text=txt, showarrow=False,
                        xanchor="center", yanchor="middle", font=dict(size=18)))
    for txt, lx, ly, anc in AXIS_LABELS:
        ann.append(dict(x=lx, y=ly, xref=xr, yref=yr, text=txt, showarrow=False,
                        xanchor=anc, yanchor="middle", font=dict(size=25)))
    ann.append(dict(x=title_x, y=title_y, xref=xr, yref=yr, text="<b>" + title + "</b>",
                    showarrow=False, xanchor="center", yanchor="middle", font=dict(size=31)))


def scale_bar(bx, by_bottom, pxmm):
    xa, ya, xr, yr = new_axes()
    lay[xa] = dict(domain=[(bx - 20) / W, (bx + 45) / W], range=[-20, 45], visible=False,
                   anchor=yr, fixedrange=True)
    lay[ya] = dict(domain=[1 - (by_bottom + 0.15 * pxmm) / H, 1 - (by_bottom - 1.15 * pxmm) / H],
                   range=[-0.15, 1.15], visible=False, anchor=xr, fixedrange=True)
    fig.add_trace(go.Scatter(x=[0, 0, None, -8, 8, None, -8, 8],
                             y=[0, SCALE_MM, None, 0, 0, None, SCALE_MM, SCALE_MM],
                             mode="lines", line=dict(color="black", width=1.3),
                             xaxis=xr, yaxis=yr, hoverinfo="skip"))
    ann.append(dict(x=9, y=SCALE_MM / 2, xref=xr, yref=yr, text="1 mm", showarrow=False,
                    xanchor="left", yanchor="middle", font=dict(size=15)))


# ---------------- build ----------------
A_COLS = [69, 399, 729]
A_ROWS = [178, 494, 763]
B_COLS = [71, 402, 732]
B_ROWS = [1029, 1346, 1615]

for data, title, (r, c), tt in zip(A_DATA, A_TITLES, GRID_POS, TITLE_T):
    panel(data, title, tt, A_COLS[c], A_ROWS[r], 60, 121, 52)
for data, title, (r, c), tt in zip(B_DATA, B_TITLES, GRID_POS, TITLE_T):
    panel(data, title, tt, B_COLS[c], B_ROWS[r], 72, 116, 55)

diagram(510, 411.7, "<u>O</u>: MI", -3.08, 3.85)
diagram(512.7, 1262.7, "<u>O</u>: SM", -2.93, 3.9)
scale_bar(920.5, 605.7, 60)
scale_bar(948.5, 1457.6, 72)

ann.append(dict(x=22.5 / W, y=1 - 25 / H, xref="paper", yref="paper", text="<b>A</b>",
                showarrow=False, xanchor="center", yanchor="middle", font=dict(size=28)))
ann.append(dict(x=22 / W, y=1 - 873 / H, xref="paper", yref="paper", text="<b>B</b>",
                showarrow=False, xanchor="center", yanchor="middle", font=dict(size=28)))

lay["annotations"] = ann
lay["shapes"] = shp
fig.update_layout(**lay)
fig.write_html("out.html")
